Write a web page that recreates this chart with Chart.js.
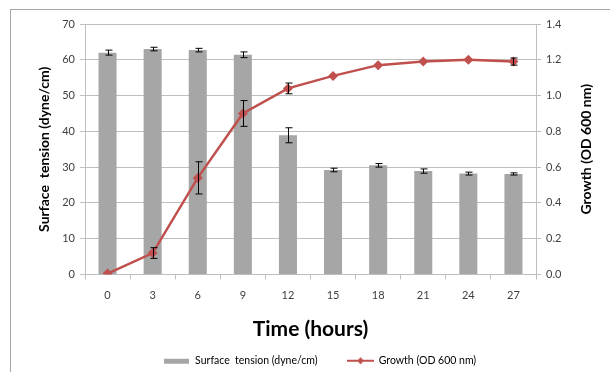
<!DOCTYPE html>
<html>
<head>
<meta charset="utf-8">
<script src="https://cdn.jsdelivr.net/npm/chart.js@4.4.1/dist/chart.umd.min.js"></script>
<style>
    body { margin: 0; background: #fff; }
    #wrap { position: relative; width: 610px; height: 372px; }
    #frame { position: absolute; left: 10px; top: 9px; right: -5px; bottom: -5px;
             border-left: 1px solid #a6a6a6; border-top: 1px solid #a6a6a6; }
    canvas { position: absolute; left: 0; top: 0; }
</style>
</head>
<body>
<div id="wrap">
    <div id="frame"></div>
    <canvas id="chart" width="610" height="372"></canvas>
</div>
<script>
    // data
    var hours = ["0", "3", "6", "9", "12", "15", "18", "21", "24", "27"];
    var surfaceTension = [62.0, 63.0, 62.7, 61.4, 38.9, 29.2, 30.5, 28.9, 28.2, 28.1];
    var surfaceErr = [0.7, 0.5, 0.5, 0.8, 2.1, 0.5, 0.5, 0.6, 0.4, 0.3];
    var growth = [0.005, 0.12, 0.54, 0.90, 1.04, 1.11, 1.17, 1.19, 1.20, 1.19];
    var growthErr = [0, 0.03, 0.09, 0.072, 0.03, 0, 0, 0, 0, 0.02];
    var leftTicks = [0, 10, 20, 30, 40, 50, 60, 70];
    var rightTicks = [0, 0.2, 0.4, 0.6, 0.8, 1.0, 1.2, 1.4];

    var FONT = "Lato, 'Liberation Sans', sans-serif";
    var RED = "#c0504d";
    var GREY = "#a6a6a6";

    // legend icons
    function barIcon() {
        var c = document.createElement('canvas');
        c.width = 25; c.height = 10;
        var x = c.getContext('2d');
        x.fillStyle = GREY;
        x.fillRect(0, 3, 25, 5);
        return c;
    }
    function lineIcon() {
        var c = document.createElement('canvas');
        c.width = 27; c.height = 10;
        var x = c.getContext('2d');
        x.strokeStyle = RED; x.lineWidth = 2;
        x.beginPath(); x.moveTo(0, 5); x.lineTo(27, 5); x.stroke();
        x.fillStyle = RED;
        x.beginPath(); x.moveTo(13.5, 1.5); x.lineTo(17, 5); x.lineTo(13.5, 8.5); x.lineTo(10, 5); x.closePath(); x.fill();
        return c;
    }

    var errorBars = {
        id: 'errorBars',
        afterDatasetsDraw: function (chart) {
            var ctx = chart.ctx;
            var sets = [[0, surfaceTension, surfaceErr, 'y'], [1, growth, growthErr, 'y1']];
            ctx.save();
            ctx.strokeStyle = "#000";
            ctx.lineWidth = 1;
            sets.forEach(function (s) {
                var meta = chart.getDatasetMeta(s[0]);
                var scale = chart.scales[s[3]];
                meta.data.forEach(function (el, i) {
                    var e = s[2][i];
                    if (!e) return;
                    var x = Math.round(el.x) + 0.5;
                    var top = scale.getPixelForValue(s[1][i] + e);
                    var bot = scale.getPixelForValue(s[1][i] - e);
                    ctx.beginPath();
                    ctx.moveTo(x, top); ctx.lineTo(x, bot);
                    ctx.moveTo(x - 3, top); ctx.lineTo(x + 4, top);
                    ctx.moveTo(x - 3, bot); ctx.lineTo(x + 4, bot);
                    ctx.stroke();
                });
            });
            ctx.restore();
        }
    };

    var rightTitle = {
        id: 'rightTitle',
        afterDraw: function (chart) {
            var ctx = chart.ctx;
            var a = chart.chartArea;
            ctx.save();
            ctx.translate(586, (a.top + a.bottom) / 2);
            ctx.rotate(-Math.PI / 2);
            ctx.font = "bold 14px " + FONT;
            ctx.fillStyle = "#000";
            ctx.textAlign = "center";
            ctx.textBaseline = "middle";
            ctx.fillText("Growth (OD 600 nm)", 0, 0);
            ctx.restore();
        }
    };

    new Chart(document.getElementById('chart'), {
        type: 'bar',
        data: {
            labels: hours,
            datasets: [
                {
                    type: 'bar',
                    label: "Surface  tension (dyne/cm)",
                    data: surfaceTension,
                    backgroundColor: GREY,
                    barPercentage: 0.4,
                    categoryPercentage: 1,
                    yAxisID: 'y',
                    order: 1
                },
                {
                    type: 'line',
                    label: "Growth (OD 600 nm)",
                    data: growth,
                    borderColor: RED,
                    backgroundColor: RED,
                    borderWidth: 2.5,
                    tension: 0,
                    pointStyle: 'rectRot',
                    pointRadius: 5,
                    pointBorderWidth: 0,
                    yAxisID: 'y1',
                    order: 0
                }
            ]
        },
        options: {
            responsive: false,
            animation: false,
            layout: { padding: { left: 30, top: 24, right: 0, bottom: -4 } },
            plugins: {
                tooltip: { enabled: false },
                legend: {
                    position: 'bottom',
                    labels: {
                        usePointStyle: true,
                        pointStyleWidth: 26,
                        padding: 30,
                        color: "#404040",
                        font: { family: FONT, size: 10.5 },
                        generateLabels: function (chart) {
                            return [
                                { text: "Surface  tension (dyne/cm)", pointStyle: barIcon(), datasetIndex: 0, lineWidth: 0, fillStyle: GREY, strokeStyle: GREY },
                                { text: "Growth (OD 600 nm)", pointStyle: lineIcon(), datasetIndex: 1, lineWidth: 0, fillStyle: RED, strokeStyle: RED }
                            ];
                        }
                    }
                }
            },
            scales: {
                x: {
                    offset: true,
                    afterFit: function (s) { s.height = 51; },
                    grid: { display: true, drawOnChartArea: false, offset: true, tickLength: 5, color: "#bfbfbf" },
                    border: { color: "#bfbfbf" },
                    ticks: { color: "#404040", font: { family: FONT, size: 11 }, padding: 9 },
                    title: { display: true, text: "Time (hours)", color: "#000", font: { family: FONT, size: 21, weight: 'bold' }, padding: { top: 0, bottom: -16 } }
                },
                y: {
                    position: 'left',
                    min: 0, max: 70,
                    afterFit: function (s) { s.width = 55; },
                    afterBuildTicks: function (s) { s.ticks = leftTicks.map(function (v) { return { value: v }; }); },
                    grid: { color: "#bfbfbf", tickLength: 5 },
                    border: { color: "#bfbfbf" },
                    ticks: { color: "#404040", font: { family: FONT, size: 11 }, padding: 5 },
                    title: { display: true, text: "Surface  tension (dyne/cm)", color: "#000", font: { family: FONT, size: 14, weight: 'bold' }, padding: { top: 6, bottom: 4 } }
                },
                y1: {
                    position: 'right',
                    min: 0, max: 1.4,
                    afterFit: function (s) { s.width = 74; },
                    afterBuildTicks: function (s) { s.ticks = rightTicks.map(function (v) { return { value: v }; }); },
                    grid: { drawOnChartArea: false, color: "#bfbfbf", tickLength: 5 },
                    border: { color: "#bfbfbf" },
                    ticks: { color: "#404040", font: { family: FONT, size: 11 }, padding: 5,
                        callback: function (v) { return Number(v).toFixed(1); } }
                }
            }
        },
        plugins: [errorBars, rightTitle]
    });
</script>
</body>
</html>
